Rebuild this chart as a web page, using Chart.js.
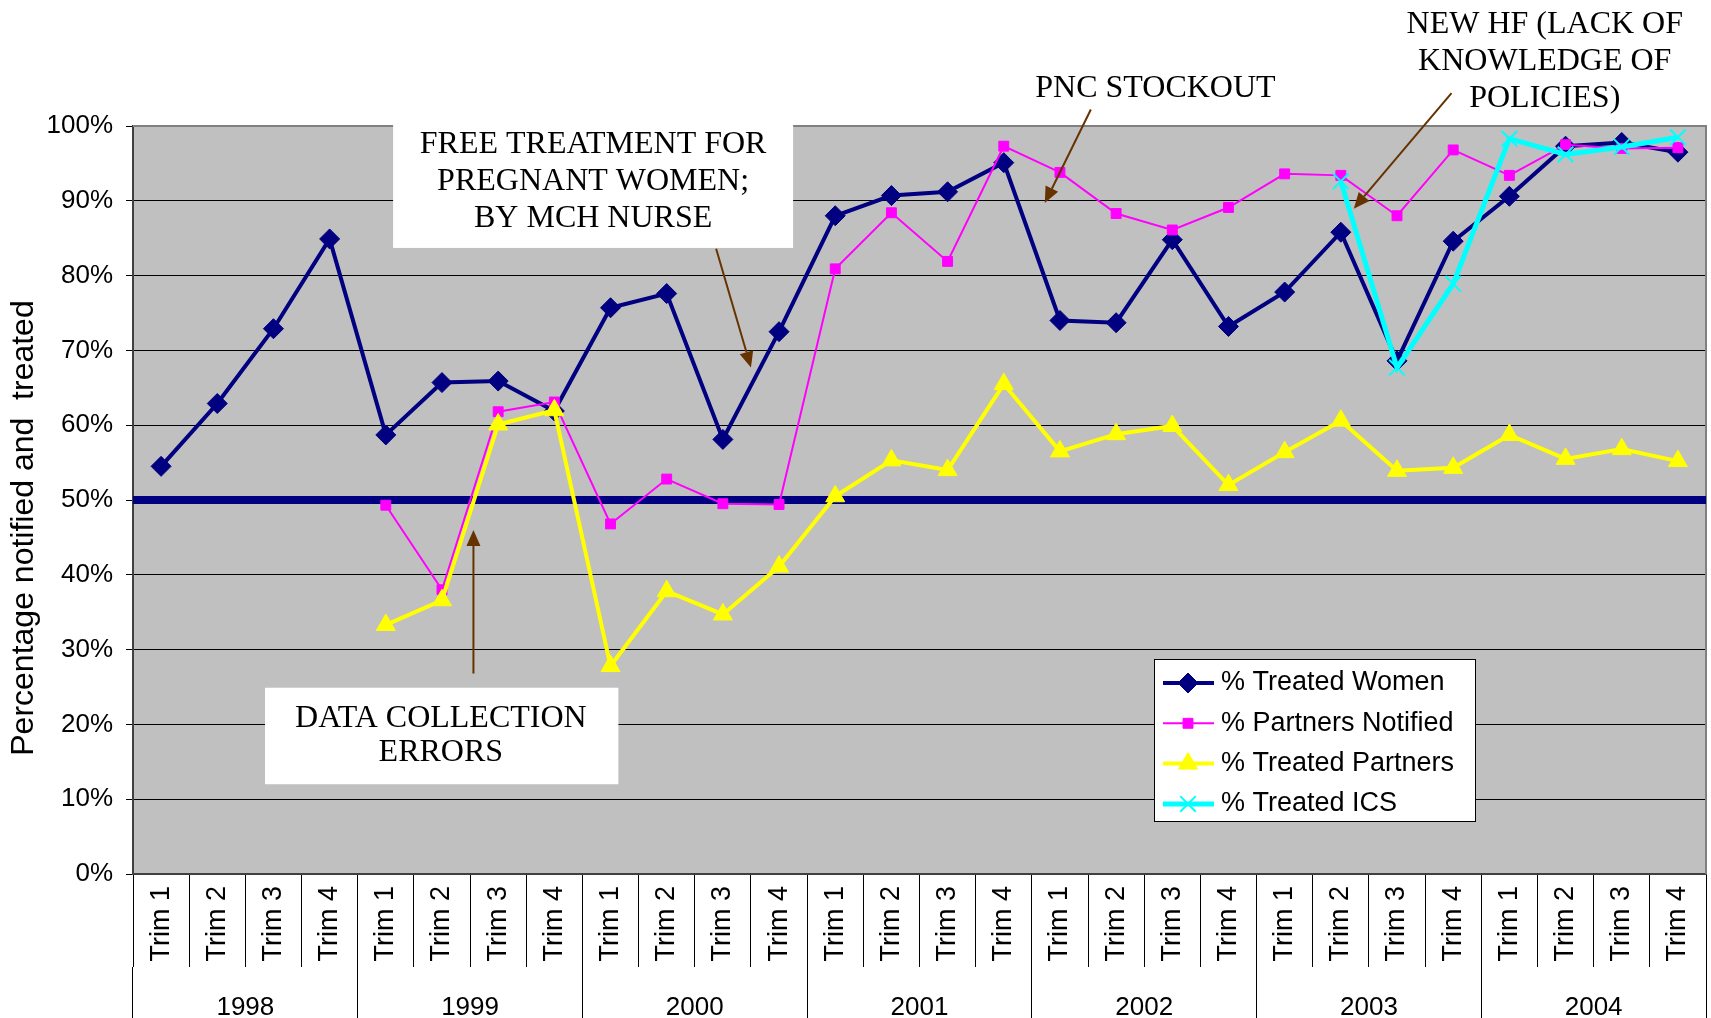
<!DOCTYPE html>
<html lang="en">
<head>
<meta charset="UTF-8">
<title>Partners notified and treated 1998-2004</title>
<script src="https://cdn.jsdelivr.net/npm/chart.js@4.4.1/dist/chart.umd.min.js"></script>
<style>
    html, body { margin: 0; padding: 0; background: #fff; }
    canvas { display: block; }
</style>
</head>
<body>
<canvas id="trendChart" width="1711" height="1018"></canvas>
<script>
    const years = ['1998', '1999', '2000', '2001', '2002', '2003', '2004'];
    const trims = ['Trim 1', 'Trim 2', 'Trim 3', 'Trim 4'];
    const periods = years.flatMap(() => trims);

    // values in percent, one per trimester
    const treatedWomen = [54.5, 62.9, 72.9, 84.9, 58.7, 65.7, 65.9, 61.9, 75.7, 77.6, 58.1, 72.5, 88.0, 90.7,
        91.2, 95.1, 74.0, 73.7, 84.8, 73.2, 77.8, 85.8, 68.6, 84.6, 90.6, 97.3, 97.8, 96.5];
    const partnersNotified = [null, null, null, null, 49.3, 38.0, 61.8, 63.1, 46.8, 52.8, 49.5, 49.4, 80.9, 88.4,
        81.9, 97.3, 93.8, 88.3, 86.1, 89.1, 93.6, 93.4, 88.0, 96.8, 93.4, 97.5, 97.0, 97.1];
    const treatedPartners = [null, null, null, null, 33.3, 36.6, 60.1, 62.0, 27.8, 37.8, 34.7, 41.1, 50.5, 55.3,
        54.0, 65.5, 56.5, 58.8, 59.9, 52.0, 56.4, 60.6, 53.9, 54.3, 58.7, 55.5, 56.8, 55.2];
    const treatedICS = [null, null, null, null, null, null, null, null, null, null, null, null, null, null,
        null, null, null, null, null, null, null, 92.6, 67.7, 78.9, 98.3, 96.2, 97.2, 98.5];
    const targetLevel = 50;

    // call-outs, placed in data units: [category index, percent]
    const notes = [
        { lines: ['FREE TREATMENT FOR', 'PREGNANT WOMEN;', 'BY MCH NURSE'], box: [4.13, 100.2, 11.25, 83.7],
          at: [7.69, 97.5], gap: 37, arrow: [9.88, 83.6, 10.5, 67.7] },
        { lines: ['PNC STOCKOUT'], at: [17.7, 105.0], gap: 37, arrow: [16.55, 102.2, 15.73, 89.7] },
        { lines: ['NEW HF (LACK OF', 'KNOWLEDGE OF', 'POLICIES)'], at: [24.63, 113.6], gap: 37,
          arrow: [22.97, 104.4, 21.23, 88.95] },
        { lines: ['DATA COLLECTION', 'ERRORS'], box: [1.85, 24.9, 8.14, 12.0], at: [4.98, 20.8], gap: 34,
          arrow: [5.56, 26.8, 5.56, 46.0] }
    ];

    const sans = '"Liberation Sans", Arial, sans-serif';
    const serif = '"Liberation Serif", "Times New Roman", serif';
    Chart.defaults.font.family = sans;
    Chart.defaults.color = '#000';

    const plotFrame = {
        id: 'plotFrame',
        beforeDraw(chart) {
            const { ctx, chartArea: a } = chart;
            ctx.save();
            ctx.fillStyle = '#c0c0c0';
            ctx.fillRect(a.left, a.top, a.width, a.height);
            ctx.restore();
        },
        beforeDatasetsDraw(chart) {
            const { ctx, chartArea: a } = chart;
            ctx.save();
            ctx.strokeStyle = '#808080';
            ctx.lineWidth = 2;
            ctx.beginPath();
            ctx.moveTo(a.left, a.top);
            ctx.lineTo(a.right, a.top);
            ctx.lineTo(a.right, a.bottom);
            ctx.stroke();
            // y axis title
            ctx.translate(24, (a.top + a.bottom) / 2 + 28);
            ctx.rotate(-Math.PI / 2);
            ctx.fillStyle = '#000';
            ctx.font = '32px ' + sans;
            ctx.textAlign = 'center';
            ctx.textBaseline = 'middle';
            ctx.fillText('Percentage notified and  treated', 0, 0);
            ctx.restore();
        }
    };

    function drawArrow(ctx, x1, y1, x2, y2) {
        const ang = Math.atan2(y2 - y1, x2 - x1), len = 16, half = 7;
        const bx = x2 - len * Math.cos(ang), by = y2 - len * Math.sin(ang);
        ctx.strokeStyle = '#663300';
        ctx.fillStyle = '#663300';
        ctx.lineWidth = 2;
        ctx.beginPath();
        ctx.moveTo(x1, y1);
        ctx.lineTo(bx, by);
        ctx.stroke();
        ctx.beginPath();
        ctx.moveTo(x2, y2);
        ctx.lineTo(bx + half * Math.sin(ang), by - half * Math.cos(ang));
        ctx.lineTo(bx - half * Math.sin(ang), by + half * Math.cos(ang));
        ctx.closePath();
        ctx.fill();
    }

    const callouts = {
        id: 'callouts',
        afterDatasetsDraw(chart) {
            const { ctx, scales: { x, y } } = chart;
            const px = (i, v) => [x.getPixelForValue(i), y.getPixelForValue(v)];
            ctx.save();
            notes.forEach(n => {
                if (n.box) {
                    const [l, t] = px(n.box[0], n.box[1]);
                    const [r, b] = px(n.box[2], n.box[3]);
                    ctx.fillStyle = '#fff';
                    ctx.fillRect(l, t, r - l, b - t);
                }
                const [ax1, ay1] = px(n.arrow[0], n.arrow[1]);
                const [ax2, ay2] = px(n.arrow[2], n.arrow[3]);
                drawArrow(ctx, ax1, ay1, ax2, ay2);
                const [tx, ty] = px(n.at[0], n.at[1]);
                ctx.fillStyle = '#000';
                ctx.font = '32px ' + serif;
                ctx.textAlign = 'center';
                ctx.textBaseline = 'middle';
                n.lines.forEach((line, k) => ctx.fillText(line, tx, ty + k * n.gap));
            });
            ctx.restore();
        }
    };

    const boxLegend = {
        id: 'boxLegend',
        afterDraw(chart) {
            const { ctx, chartArea: a } = chart;
            const left = a.right - 552, top = a.bottom - 215, w = 321, h = 162;
            ctx.save();
            ctx.fillStyle = '#fff';
            ctx.fillRect(left, top, w, h);
            ctx.strokeStyle = '#000';
            ctx.lineWidth = 1;
            ctx.strokeRect(left + 0.5, top + 0.5, w, h);
            chart.data.datasets.filter(ds => ds.inLegend !== false).forEach((ds, i) => {
                const y = top + 24 + i * 40.3;
                ctx.strokeStyle = ds.borderColor;
                ctx.lineWidth = ds.borderWidth;
                ctx.beginPath();
                ctx.moveTo(left + 9, y);
                ctx.lineTo(left + 60, y);
                ctx.stroke();
                ctx.fillStyle = ds.backgroundColor;
                ctx.lineWidth = ds.pointBorderWidth;
                Chart.helpers.drawPoint(ctx, {
                    pointStyle: ds.pointStyle, radius: ds.pointRadius, rotation: 0, borderWidth: ds.pointBorderWidth
                }, left + 34, y);
                ctx.fillStyle = '#000';
                ctx.font = '27px ' + sans;
                ctx.textAlign = 'left';
                ctx.textBaseline = 'middle';
                ctx.fillText(ds.label, left + 67, y);
            });
            ctx.restore();
        }
    };

    new Chart(document.getElementById('trendChart'), {
        type: 'line',
        data: {
            labels: periods,
            datasets: [
                {
                    label: '% Treated Women', data: treatedWomen, order: 4,
                    borderColor: '#000080', backgroundColor: '#000080', borderWidth: 4,
                    pointStyle: 'rectRot', pointRadius: 10, pointBorderWidth: 1
                },
                {
                    label: '% Partners Notified', data: partnersNotified, order: 3,
                    borderColor: '#ff00ff', backgroundColor: '#ff00ff', borderWidth: 2,
                    pointStyle: 'rect', pointRadius: 7, pointBorderWidth: 1
                },
                {
                    label: '% Treated Partners', data: treatedPartners, order: 2,
                    borderColor: '#ffff00', backgroundColor: '#ffff00', borderWidth: 4,
                    pointStyle: 'triangle', pointRadius: 11, pointBorderWidth: 1
                },
                {
                    label: '% Treated ICS', data: treatedICS, order: 1,
                    borderColor: '#00ffff', backgroundColor: '#00ffff', borderWidth: 5,
                    pointStyle: 'crossRot', pointRadius: 11, pointBorderWidth: 2
                },
                {
                    label: 'Target', inLegend: false, order: 5, xAxisID: 'xFull',
                    data: [{ x: 0, y: targetLevel }, { x: 1, y: targetLevel }],
                    borderColor: '#000080', borderWidth: 8, pointRadius: 0
                }
            ]
        },
        options: {
            responsive: false,
            animation: false,
            devicePixelRatio: 1,
            layout: { autoPadding: false, padding: { top: 126, right: 5, left: 0, bottom: 0 } },
            elements: { line: { tension: 0 } },
            plugins: {
                legend: { display: false },
                tooltip: { enabled: false }
            },
            scales: {
                x: {
                    type: 'category', offset: true, weight: 0,
                    grid: { offset: true, drawOnChartArea: false, tickLength: 93, color: '#000' },
                    border: { color: '#404040', width: 2 },
                    ticks: { autoSkip: false, minRotation: 90, maxRotation: 90, padding: -81,
                             font: { size: 27 }, color: '#000' },
                    afterFit: s => { s.height = 93; s.paddingLeft = 0; s.paddingRight = 0; }
                },
                x2: {
                    type: 'category', labels: years, position: 'bottom', offset: true, weight: 1,
                    grid: { offset: true, drawOnChartArea: false, tickLength: 51, color: '#000' },
                    border: { display: false },
                    ticks: { autoSkip: false, maxRotation: 0, padding: -26, font: { size: 26 }, color: '#000' },
                    afterFit: s => { s.height = 51; s.paddingLeft = 0; s.paddingRight = 0; }
                },
                xFull: { type: 'linear', min: 0, max: 1, display: false },
                y: {
                    min: 0, max: 100,
                    ticks: { stepSize: 10, callback: v => v + '%', font: { size: 26 }, color: '#000', padding: 13 },
                    grid: { color: '#000', lineWidth: 1, tickLength: 7 },
                    border: { color: '#404040', width: 2 },
                    afterFit: s => { s.width = 133; }
                }
            }
        },
        plugins: [plotFrame, callouts, boxLegend]
    });
</script>
</body>
</html>
